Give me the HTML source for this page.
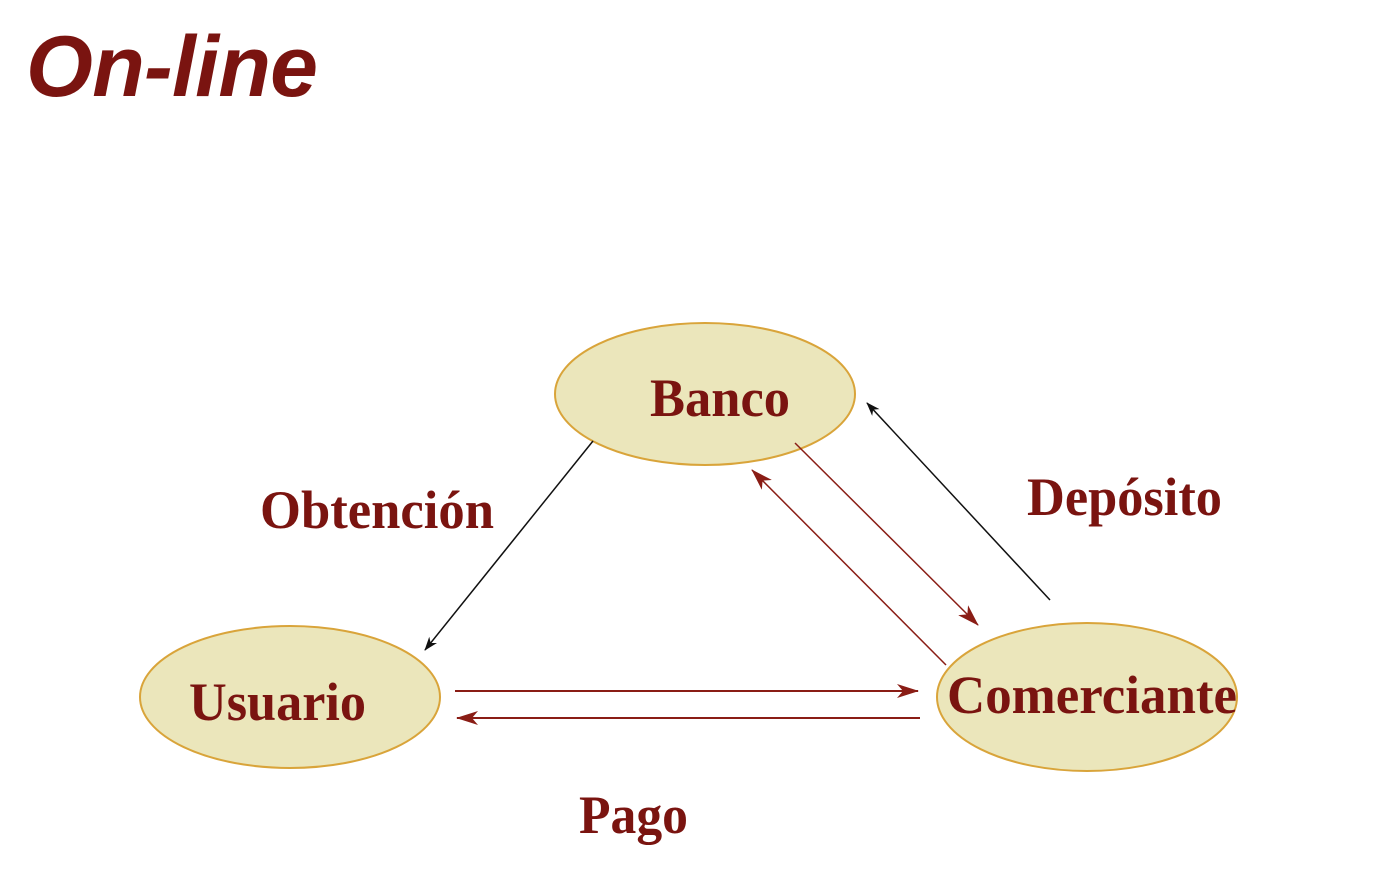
<!DOCTYPE html>
<html><head><meta charset="utf-8"><style>
body{margin:0;background:#fff;width:1388px;height:874px;overflow:hidden}
</style></head><body>
<svg width="1388" height="874" xmlns="http://www.w3.org/2000/svg">
<defs>
<marker id="ab" markerWidth="14" markerHeight="10" refX="13" refY="5" orient="auto" markerUnits="userSpaceOnUse"><path d="M0,0 L14,5 L0,10 L4,5z" fill="#111"/></marker>
<marker id="ar" markerWidth="22" markerHeight="14" refX="21" refY="7" orient="auto" markerUnits="userSpaceOnUse"><path d="M0,0 L22,7 L0,14 L6,7z" fill="#8a1d15"/></marker>
</defs>
<text x="26" y="96" font-family="Liberation Sans, sans-serif" font-weight="bold" font-style="italic" font-size="86" fill="#7a1410" textLength="292">On-line</text>
<g fill="#ebe6bb" stroke="#d9a43a" stroke-width="2">
<ellipse cx="705" cy="394" rx="150" ry="71"/>
<ellipse cx="290" cy="697" rx="150" ry="71"/>
<ellipse cx="1087" cy="697" rx="150" ry="74"/>
</g>
<g stroke-width="1.5" fill="none">
<line x1="593" y1="441" x2="425" y2="650" stroke="#111" marker-end="url(#ab)"/>
<line x1="1050" y1="600" x2="867" y2="403" stroke="#111" marker-end="url(#ab)"/>
<line x1="795" y1="443" x2="978" y2="625" stroke="#8a1d15" marker-end="url(#ar)"/>
<line x1="946" y1="665" x2="752" y2="470" stroke="#8a1d15" marker-end="url(#ar)"/>
<line x1="455" y1="691" x2="918" y2="691" stroke="#8a1d15" stroke-width="2" marker-end="url(#ar)"/>
<line x1="920" y1="718" x2="457" y2="718" stroke="#8a1d15" stroke-width="2" marker-end="url(#ar)"/>
</g>
<g font-family="Liberation Serif, serif" font-weight="bold" font-size="54" fill="#7a1410">
<text x="650" y="416" textLength="140" lengthAdjust="spacingAndGlyphs">Banco</text>
<text x="260" y="528" textLength="234" lengthAdjust="spacingAndGlyphs">Obtención</text>
<text x="1027" y="515" textLength="195" lengthAdjust="spacingAndGlyphs">Depósito</text>
<text x="189" y="720" textLength="177" lengthAdjust="spacingAndGlyphs">Usuario</text>
<text x="947" y="713" textLength="290" lengthAdjust="spacingAndGlyphs">Comerciante</text>
<text x="579" y="833" textLength="109" lengthAdjust="spacingAndGlyphs">Pago</text>
</g>
</svg>
</body></html>
